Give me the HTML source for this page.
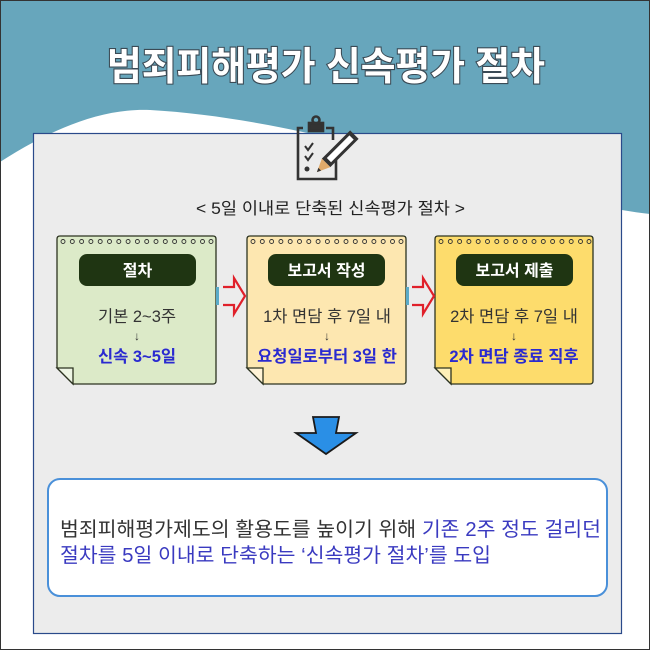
<!DOCTYPE html>
<html><head><meta charset="utf-8"><style>
html,body{margin:0;padding:0;background:#fff}
svg{display:block}
text{font-family:"Liberation Sans","Noto Sans CJK KR",sans-serif}
</style></head><body>
<svg width="650" height="650" viewBox="0 0 650 650" xmlns="http://www.w3.org/2000/svg">
<rect width="650" height="650" fill="#67a6bc"/>
<path d="M0,162 C50,130 100,108 150,110 C260,116 380,150 480,175 C560,196 610,210 650,214 L650,650 L0,650 Z" fill="#fff"/>
<rect x="0.5" y="0.5" width="649" height="649" fill="none" stroke="#333" stroke-width="1"/>
<text x="326" y="80" text-anchor="middle" font-size="39" font-weight="bold" fill="#fff" stroke="#3a4a55" stroke-width="2.2" paint-order="stroke" textLength="438" lengthAdjust="spacingAndGlyphs">범죄피해평가 신속평가 절차</text>
<rect x="33.5" y="133.5" width="588" height="500" fill="#ececec" stroke="#2a4a8a" stroke-width="1.2"/>
<g fill="none" stroke="#333" stroke-width="2.6">
<path d="M303,128 L298,128 L298,179 L336,179 L336,160"/>
<path d="M326,128 L333,128 L333,140"/>
<rect x="309" y="123" width="14" height="8" fill="#333"/>
<circle cx="316" cy="120" r="3.5"/>
<path d="M305,146 L308,150 L313,143 M305,156 L308,160 L313,153" stroke-width="2"/>
</g>
<circle cx="307" cy="169" r="2.5" fill="#333"/>
<g transform="rotate(45 336 153)">
<rect x="330" y="127" width="12" height="40" fill="#333"/>
<rect x="333" y="131" width="6" height="32" fill="#fff"/>
<polygon points="330,167 342,167 336,180" fill="#e0aa6a"/>
<polygon points="334,176 338,176 336,180" fill="#333"/>
</g>
<text x="196" y="214" font-size="16.5" fill="#222" textLength="269" lengthAdjust="spacingAndGlyphs">&lt; 5일 이내로 단축된 신속평가 절차 &gt;</text>
<g stroke="#2c3320" stroke-width="1.3">
<path d="M60,236 L213,236 Q216,236 216,239 L216,381 Q216,384 213,384 L73,384 L57,368 L57,239 Q57,236 60,236 Z" fill="#dceac8"/>
<path d="M57,368 L73,368 L73,384 Z" fill="#eef5e4"/>
<path d="M250,236 L403,236 Q406,236 406,239 L406,381 Q406,384 403,384 L263,384 L247,368 L247,239 Q247,236 250,236 Z" fill="#fde7b0"/>
<path d="M247,368 L263,368 L263,384 Z" fill="#fff3d6"/>
<path d="M438,236 L590,236 Q593,236 593,239 L593,381 Q593,384 590,384 L451,384 L435,368 L435,239 Q435,236 438,236 Z" fill="#fddc6c"/>
<path d="M435,368 L451,368 L451,384 Z" fill="#fff0b8"/>
</g>
<g fill="none" stroke="#333" stroke-width="0.9">
<circle cx="63" cy="241.5" r="2"/><circle cx="72.3" cy="241.5" r="2"/><circle cx="81.6" cy="241.5" r="2"/><circle cx="90.9" cy="241.5" r="2"/><circle cx="100.2" cy="241.5" r="2"/><circle cx="109.5" cy="241.5" r="2"/><circle cx="118.8" cy="241.5" r="2"/><circle cx="128.1" cy="241.5" r="2"/><circle cx="137.4" cy="241.5" r="2"/><circle cx="146.7" cy="241.5" r="2"/><circle cx="156" cy="241.5" r="2"/><circle cx="165.3" cy="241.5" r="2"/><circle cx="174.6" cy="241.5" r="2"/><circle cx="183.9" cy="241.5" r="2"/><circle cx="193.2" cy="241.5" r="2"/><circle cx="202.5" cy="241.5" r="2"/><circle cx="211" cy="241.5" r="2"/>
<circle cx="253" cy="241.5" r="2"/><circle cx="262.3" cy="241.5" r="2"/><circle cx="271.6" cy="241.5" r="2"/><circle cx="280.9" cy="241.5" r="2"/><circle cx="290.2" cy="241.5" r="2"/><circle cx="299.5" cy="241.5" r="2"/><circle cx="308.8" cy="241.5" r="2"/><circle cx="318.1" cy="241.5" r="2"/><circle cx="327.4" cy="241.5" r="2"/><circle cx="336.7" cy="241.5" r="2"/><circle cx="346" cy="241.5" r="2"/><circle cx="355.3" cy="241.5" r="2"/><circle cx="364.6" cy="241.5" r="2"/><circle cx="373.9" cy="241.5" r="2"/><circle cx="383.2" cy="241.5" r="2"/><circle cx="392.5" cy="241.5" r="2"/><circle cx="401" cy="241.5" r="2"/>
<circle cx="441" cy="241.5" r="2"/><circle cx="450.3" cy="241.5" r="2"/><circle cx="459.6" cy="241.5" r="2"/><circle cx="468.9" cy="241.5" r="2"/><circle cx="478.2" cy="241.5" r="2"/><circle cx="487.5" cy="241.5" r="2"/><circle cx="496.8" cy="241.5" r="2"/><circle cx="506.1" cy="241.5" r="2"/><circle cx="515.4" cy="241.5" r="2"/><circle cx="524.7" cy="241.5" r="2"/><circle cx="534" cy="241.5" r="2"/><circle cx="543.3" cy="241.5" r="2"/><circle cx="552.6" cy="241.5" r="2"/><circle cx="561.9" cy="241.5" r="2"/><circle cx="571.2" cy="241.5" r="2"/><circle cx="580.5" cy="241.5" r="2"/><circle cx="589" cy="241.5" r="2"/>
</g>
<rect x="79" y="254" width="117" height="32" rx="8" fill="#1f3512"/>
<rect x="268" y="254" width="117" height="32" rx="8" fill="#1f3512"/>
<rect x="456" y="254" width="117" height="32" rx="8" fill="#1f3512"/>
<g font-size="16" font-weight="bold" fill="#fff" text-anchor="middle">
<text x="137.5" y="276">절차</text>
<text x="326.5" y="276">보고서 작성</text>
<text x="514.5" y="276">보고서 제출</text>
</g>
<g font-size="16.5" fill="#333" text-anchor="middle">
<text x="137" y="322">기본 2~3주</text>
<text x="327" y="322">1차 면담 후 7일 내</text>
<text x="514" y="322">2차 면담 후 7일 내</text>
<text x="137" y="340" font-size="12">↓</text>
<text x="327" y="340" font-size="12">↓</text>
<text x="514" y="340" font-size="12">↓</text>
</g>
<g font-size="16.5" font-weight="bold" fill="#2a2ad0" text-anchor="middle">
<text x="137" y="362">신속 3~5일</text>
<text x="327" y="362">요청일로부터 3일 한</text>
<text x="514" y="362">2차 면담 종료 직후</text>
</g>
<rect x="216" y="287" width="3" height="18" fill="#5aaac8"/>
<rect x="406" y="287" width="3" height="18" fill="#5aaac8"/>
<g fill="none" stroke="#e0202a" stroke-width="2.2">
<path d="M223,287 L234,287 L234,278 L245,296 L234,314 L234,305 L223,305"/>
<path d="M412,287 L423,287 L423,278 L434,296 L423,314 L423,305 L412,305"/>
</g>
<path d="M313,417 L339,417 L336,433 L356,433 L326,454 L296,433 L316,433 Z" fill="#2a8fe6" stroke="#1a1a1a" stroke-width="1.8"/>
<rect x="48" y="479" width="559" height="117" rx="12" fill="#fff" stroke="#4a90d9" stroke-width="2"/>
<g font-size="20">
<text x="60" y="536" fill="#333" textLength="541" lengthAdjust="spacingAndGlyphs">범죄피해평가제도의 활용도를 높이기 위해 <tspan fill="#3a3ac0">기존 2주 정도 걸리던</tspan></text>
<text x="60" y="562" fill="#3a3ac0" textLength="431" lengthAdjust="spacingAndGlyphs">절차를 5일 이내로 단축하는 ‘신속평가 절차’를 도입</text>
</g>
</svg>
</body></html>
